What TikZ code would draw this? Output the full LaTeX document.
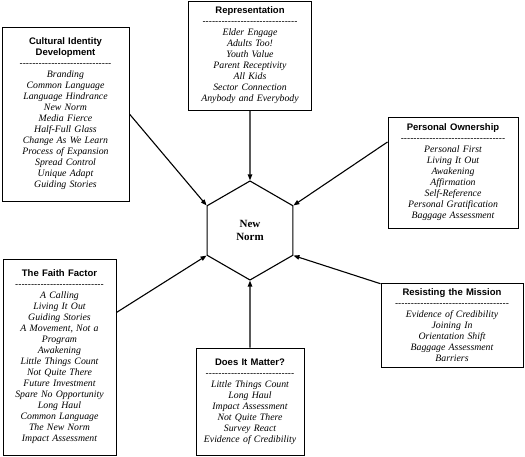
\documentclass[tikz,border=0pt]{standalone}
\usepackage{fontspec}
\usepackage{tikz}
\usetikzlibrary{arrows.meta,shapes.geometric}
\setmainfont{Liberation Serif}
\setsansfont{Liberation Sans}
\newcommand\itemfont{\fontsize{9.8}{11}\selectfont\itshape}
\newcommand\titlefont{\fontsize{9.5}{11}\selectfont\sffamily\bfseries\upshape}
\newcommand\dashrow[1]{\leavevmode\hbox to #1{\fontsize{9.5}{11}\selectfont\sffamily\upshape\cleaders\hbox{-}\hfil}}

\begin{document}
\begin{tikzpicture}[
  x=1pt, y=1pt,
  catbox/.style={draw, line width=0.9pt, fill=white, align=center, inner xsep=2pt, inner ysep=3pt, font=\itemfont},
  hexnode/.style={draw, line width=1.1pt, regular polygon, regular polygon sides=6, shape border rotate=30, minimum size=99pt, inner sep=0pt, align=center, font=\fontsize{11}{13.5}\selectfont\bfseries},
  ar/.style={-{Triangle[length=6pt,width=4.5pt]}, line width=1.1pt}
]
\useasboundingbox (0,0) rectangle (525,457);

\node[hexnode] (hex) at (250,226.5) {New\\Norm};

\node[catbox, text width=119pt, minimum height=109pt] (rep) at (250,401.5)
  {{\titlefont Representation}\\\dashrow{98pt}\\Elder Engage\\Adults Too!\\Youth Value\\Parent Receptivity\\All Kids\\Sector Connection\\Anybody and Everybody};
\node[catbox, text width=123pt, minimum height=174pt] (cult) at (65.5,343)
  {{\titlefont Cultural Identity\\Development}\\\dashrow{92pt}\\Branding\\Common Language\\Language Hindrance\\New Norm\\Media Fierce\\Half-Full Glass\\Change As We Learn\\Process of Expansion\\Spread Control\\Unique Adapt\\Guiding Stories};
\node[catbox, text width=126pt, minimum height=111pt] (pers) at (453,284.5)
  {{\titlefont Personal Ownership}\\\dashrow{105pt}\\Personal First\\Living It Out\\Awakening\\Affirmation\\Self-Reference\\Personal Gratification\\Baggage Assessment};
\node[catbox, text width=138pt, minimum height=84pt] (res) at (452,132)
  {{\titlefont Resisting the Mission}\\\dashrow{117pt}\\Evidence of Credibility\\Joining In\\Orientation Shift\\Baggage Assessment\\Barriers};
\node[catbox, text width=104pt, minimum height=107pt] (dim) at (250,55.5)
  {{\titlefont Does It Matter?}\\\dashrow{90pt}\\Little Things Count\\Long Haul\\Impact Assessment\\Not Quite There\\Survey React\\Evidence of Credibility};
\node[catbox, text width=109pt, minimum height=196pt] (faith) at (59.5,100)
  {{\titlefont The Faith Factor}\\\dashrow{91pt}\\A Calling\\Living It Out\\Guiding Stories\\A Movement, Not a\\Program\\Awakening\\Little Things Count\\Not Quite There\\Future Investment\\Spare No Opportunity\\Long Haul\\Common Language\\The New Norm\\Impact Assessment};

\foreach \s/\t in {rep.south/90, cult.east/150, pers.155/30, res.150/330, dim.north/270, faith.38/210}
  \draw[ar] (\s) -- (hex.\t);
\end{tikzpicture}
\end{document}
